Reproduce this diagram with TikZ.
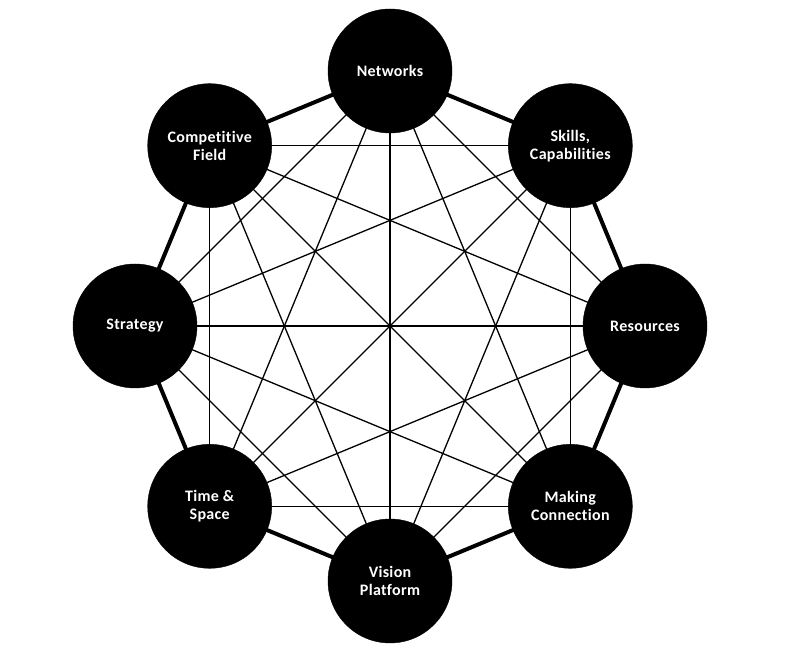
\documentclass[tikz,border=0pt]{standalone}
\usepackage{fontspec}
\setmainfont[Ligatures=NoCommon,LetterSpace=2]{Carlito}
\usetikzlibrary{backgrounds}
\begin{document}
\begin{tikzpicture}[x=1pt,y=1pt,
  hub/.style={circle,fill=black,draw=black,minimum size=124pt,inner sep=0pt,
    text=white,font=\bfseries\fontsize{16}{18}\selectfont,align=center},
  rim/.style={line width=4pt},
  spoke/.style={line width=1.3pt}]
\useasboundingbox (0,0) rectangle (789,660);
\coordinate (c) at (390,334);
\node[hub] (n1) at ([shift={(90:255)}]c) {Networks};
\node[hub] (n2) at ([shift={(45:255)}]c) {Skills,\\Capabilities};
\node[hub] (n3) at ([shift={(0:255)}]c) {Resources};
\node[hub] (n4) at ([shift={(-45:255)}]c) {Making\\Connection};
\node[hub] (n5) at ([shift={(-90:255)}]c) {Vision\\Platform};
\node[hub] (n6) at ([shift={(-135:255)}]c) {Time \&\\Space};
\node[hub] (n7) at ([shift={(180:255)}]c) {Strategy};
\node[hub] (n8) at ([shift={(135:255)}]c) {Competitive\\Field};
\begin{pgfonlayer}{background}
  \foreach \i in {1,...,8} {
    \pgfmathtruncatemacro{\j}{mod(\i,8)+1}
    \draw[rim] (n\i.center) -- (n\j.center);
  }
  \foreach \i in {1,...,6} {
    \pgfmathtruncatemacro{\s}{\i+2}
    \foreach \j in {\s,...,8} {
      \ifnum\i=1 \ifnum\j=8 \else \draw[spoke] (n\i.center) -- (n\j.center); \fi
      \else \draw[spoke] (n\i.center) -- (n\j.center); \fi
    }
  }
\end{pgfonlayer}
\end{tikzpicture}
\end{document}
